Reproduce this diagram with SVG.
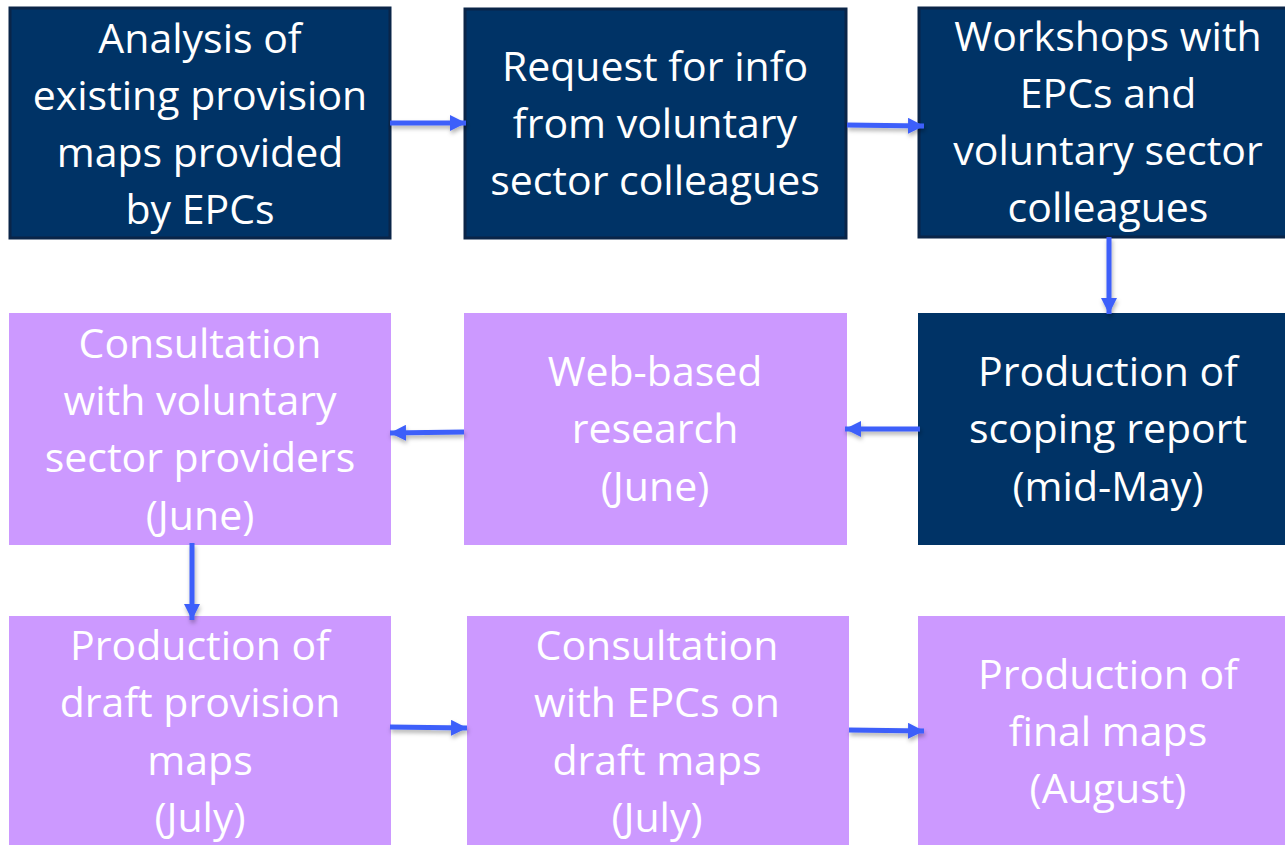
<svg xmlns="http://www.w3.org/2000/svg" width="1285" height="845" viewBox="0 0 1285 845">
<style>
.dark{fill:#003366;stroke:#0a2548;stroke-width:3}
.dark2{fill:#003366}
.purple{fill:#cc99ff}
.t{font-family:"Open Sans","Noto Sans",sans-serif;font-size:41px;fill:#ffffff;text-anchor:middle}
.arrow{stroke:#3d5ffa;stroke-width:5;fill:none;marker-end:url(#ah)}
</style>
<defs>
<marker id="ah" markerUnits="userSpaceOnUse" markerWidth="17" markerHeight="16" refX="16" refY="8" orient="auto">
<path d="M0,0 L16,8 L0,16 z" fill="#3d5ffa"/>
</marker>
<filter id="sh" filterUnits="userSpaceOnUse" x="0" y="0" width="1285" height="845">
<feDropShadow dx="1" dy="3" stdDeviation="2" flood-color="#000" flood-opacity="0.3"/>
</filter>
</defs>
<rect width="1285" height="845" fill="#ffffff"/>
<g id="n1"><rect class="dark" x="10" y="8" width="380" height="230"/>
<text class="t" x="200" y="53">Analysis of</text><text class="t" x="200" y="110">existing provision</text><text class="t" x="200" y="167">maps provided</text><text class="t" x="200" y="224">by EPCs</text></g>
<g id="n2"><rect class="dark" x="465" y="9" width="381" height="229"/>
<text class="t" x="655" y="81">Request for info</text><text class="t" x="655" y="138">from voluntary</text><text class="t" x="655" y="195">sector colleagues</text></g>
<g id="n3"><rect class="dark" x="919" y="8" width="370" height="229"/>
<text class="t" x="1108" y="51">Workshops with</text><text class="t" x="1108" y="108">EPCs and</text><text class="t" x="1108" y="165">voluntary sector</text><text class="t" x="1108" y="222">colleagues</text></g>
<g id="n4"><rect class="dark2" x="918" y="313" width="370" height="232"/>
<text class="t" x="1108" y="386">Production of</text><text class="t" x="1108" y="443">scoping report</text><text class="t" x="1108" y="501">(mid-May)</text></g>
<g id="n5"><rect class="purple" x="464" y="313" width="383" height="232"/>
<text class="t" x="655" y="386">Web-based</text><text class="t" x="655" y="443">research</text><text class="t" x="655" y="501">(June)</text></g>
<g id="n6"><rect class="purple" x="9" y="313" width="382" height="232"/>
<text class="t" x="200" y="358">Consultation</text><text class="t" x="200" y="415">with voluntary</text><text class="t" x="200" y="472">sector providers</text><text class="t" x="200" y="530">(June)</text></g>
<g id="n7"><rect class="purple" x="9" y="616" width="382" height="240"/>
<text class="t" x="200" y="660">Production of</text><text class="t" x="200" y="717">draft provision</text><text class="t" x="200" y="775">maps</text><text class="t" x="200" y="832">(July)</text></g>
<g id="n8"><rect class="purple" x="467" y="616" width="382" height="240"/>
<text class="t" x="657" y="660">Consultation</text><text class="t" x="657" y="717">with EPCs on</text><text class="t" x="657" y="775">draft maps</text><text class="t" x="657" y="832">(July)</text></g>
<g id="n9"><rect class="purple" x="918" y="616" width="370" height="240"/>
<text class="t" x="1108" y="689">Production of</text><text class="t" x="1108" y="746">final maps</text><text class="t" x="1108" y="803">(August)</text></g>
<g id="connectors" filter="url(#sh)">
<line class="arrow" x1="390" y1="123" x2="466" y2="123"/>
<line class="arrow" x1="847" y1="125" x2="924" y2="126"/>
<line class="arrow" x1="1109" y1="237" x2="1109" y2="314"/>
<line class="arrow" x1="920" y1="429" x2="845" y2="429"/>
<line class="arrow" x1="464" y1="432" x2="390" y2="433"/>
<line class="arrow" x1="192" y1="543" x2="192" y2="620"/>
<line class="arrow" x1="390" y1="727" x2="467" y2="728"/>
<line class="arrow" x1="849" y1="730" x2="924" y2="731"/>
</g>
</svg>
